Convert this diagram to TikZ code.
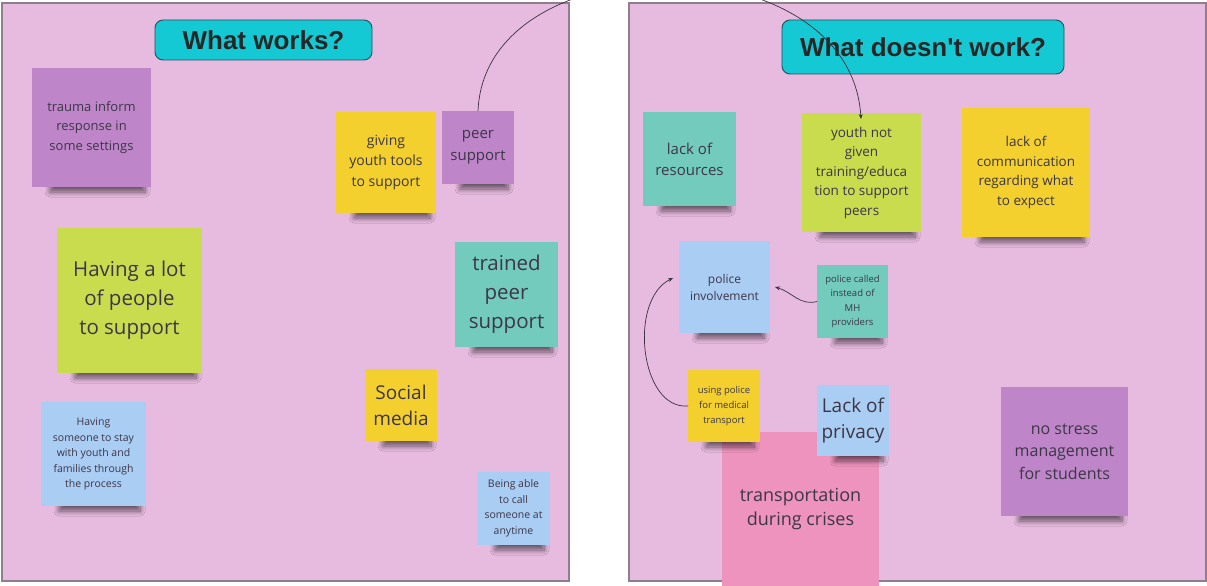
\documentclass[tikz,border=0pt]{standalone}
\usepackage{fontspec}
\setmainfont{Open Sans}
\newfontfamily\titlefont{Liberation Sans}
\usetikzlibrary{shadows.blur,arrows.meta}
\definecolor{panelfill}{HTML}{E7BADF}
\definecolor{panelline}{HTML}{8E7E8E}
\definecolor{titlecyan}{HTML}{14C9D3}
\definecolor{titleline}{HTML}{22505A}
\definecolor{npurple}{HTML}{BE86C9}
\definecolor{nyellow}{HTML}{F4D02E}
\definecolor{nlime}{HTML}{C9DC4E}
\definecolor{nteal}{HTML}{73CBBE}
\definecolor{nblue}{HTML}{AACDF3}
\definecolor{npink}{HTML}{EE93BD}
\definecolor{ntext}{HTML}{3D3648}
\definecolor{arrowc}{HTML}{3A3140}
\tikzset{
  panel/.style={fill=panelfill,draw=panelline,line width=1.2pt},
  titlebox/.style={fill=titlecyan,draw=titleline,line width=0.9pt,rounded corners=8pt,
    font=\titlefont\bfseries\fontsize{26}{30}\selectfont,text=black!85,inner sep=0pt},
  note/.style={inner sep=0pt,outer sep=0pt,align=center,text=ntext},
  noteshadow/.style={blur shadow={shadow xshift=2pt,shadow yshift=-5pt,shadow blur radius=5pt,shadow blur steps=10,shadow opacity=55}},
  link/.style={draw=arrowc,line width=0.7pt,-{Stealth[length=5pt,width=4pt]}}
}
\newcommand\stickynote[9]{%
  \path[noteshadow] ({#3+16},{#6-12}) rectangle ({#5-8},{#6});
  \node[note,fill=#2,minimum width={(#5-#3)*1pt},minimum height={(#6-#4)*1pt},
    font=\fontsize{#7}{#8}\selectfont] (#1) at ({(#3+#5)/2},{(#4+#6)/2}) {#9};}
\begin{document}
\begin{tikzpicture}[x=1pt,y=-1pt]
\useasboundingbox (0,0) rectangle (1207,586);
\fill[white] (0,0) rectangle (1207,586);
% panels
\draw[panel] (2,3) rectangle (569,581);
\draw[panel] (629,3) rectangle (1206,581);
% titles
\node[titlebox,minimum width=217pt,minimum height=40pt] (t1) at (263.5,40) {What works?};
\node[titlebox,minimum width=282pt,minimum height=54pt] (t2) at (923,47) {What doesn't work?};
% left notes
\stickynote{trauma}{npurple}{32}{68}{151}{187}{13}{19.5}{trauma inform\\response in\\some settings}
\stickynote{giving}{nyellow}{336}{112}{436}{213}{14}{20.5}{giving\\youth tools\\to support}
\stickynote{peer}{npurple}{442}{111}{514}{184}{15}{22}{peer\\support}
\stickynote{lot}{nlime}{57}{228}{202}{373}{20.5}{29}{Having a lot\\of people\\to support}
\stickynote{trained}{nteal}{455}{242}{558}{347}{20.5}{29}{trained\\peer\\support}
\stickynote{social}{nyellow}{365}{369}{437}{441}{19}{26}{Social\\media}
\stickynote{someone}{nblue}{41}{402}{146}{506}{10.5}{15.5}{Having\\someone to stay\\with youth and\\families through\\the process}
\stickynote{call}{nblue}{477}{472}{550}{545}{10.5}{15.5}{Being able\\to call\\someone at\\anytime}
% right notes
\stickynote{resources}{nteal}{643}{112}{736}{206}{15}{21}{lack of\\resources}
\stickynote{youth}{nlime}{802}{113}{921}{232}{13.5}{19.5}{youth not\\given\\training/educa\\tion to support\\peers}
\stickynote{comm}{nyellow}{962}{108}{1090}{237}{13.5}{19.5}{lack of\\communication\\regarding what\\to expect}
\stickynote{police}{nblue}{679}{241}{770}{333}{12}{17}{police\\involvement}
\stickynote{called}{nteal}{817}{265}{888}{338}{9.5}{14.5}{police called\\instead of\\MH\\providers}
\stickynote{transport}{npink}{722}{432}{879}{586}{18}{24}{transportation\\during crises}
\stickynote{using}{nyellow}{688}{370}{760}{442}{9.5}{15}{using police\\for medical\\transport}
\stickynote{privacy}{nblue}{817}{385}{889}{456}{19}{26}{Lack of\\privacy}
\stickynote{stress}{npurple}{1001}{387}{1128}{516}{16}{22.5}{no stress\\management\\for students}
% connectors
\begin{scope}
\clip (0,0) rectangle (1207,586);
\draw[link] (peer.north) .. controls (485,-60) and (850,-60) .. ([xshift=-0.5pt,yshift=-6pt]youth.north);
\end{scope}
\draw[link] (called.west) .. controls (800,306) and (792,292) .. ([xshift=5pt]police.east);
\draw[link] (using.west) .. controls (640,410) and (628,300) .. ([xshift=-6pt,yshift=9pt]police.west);
\end{tikzpicture}
\end{document}
